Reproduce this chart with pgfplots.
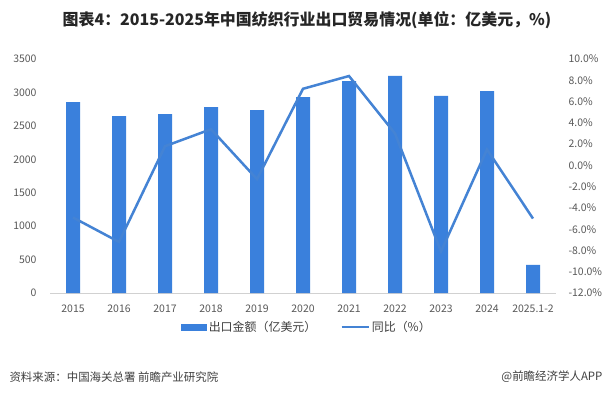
\documentclass[border=0pt]{standalone}
\usepackage{fontspec}
\usepackage{pgfplots}
\pgfplotsset{compat=1.18}
\setmainfont{Noto Sans CJK SC}
\definecolor{barc}{RGB}{58,128,220}
\definecolor{linec}{RGB}{68,131,212}
\definecolor{tickc}{RGB}{89,89,89}
\begin{document}
\begin{tikzpicture}[x=1bp,y=1bp]
\useasboundingbox (0,0) rectangle (611,396);
\fill[white] (0,0) rectangle (611,396);
\node[font=\bfseries\fontsize{16}{18}\selectfont, text=black!85] at (307,376) {图表4：2015-2025年中国纺织行业出口贸易情况(单位：亿美元，\%)};
\node[font=\fontsize{11.5}{13}\selectfont, text=black!75, anchor=west] at (6,19) {资料来源：中国海关总署 前瞻产业研究院};
\node[font=\fontsize{11.5}{13}\selectfont, text=black!75, anchor=east] at (606,19) {@前瞻经济学人APP};
\begin{axis}[at={(50bp,103bp)}, anchor=south west, scale only axis,
  width=506bp, height=234bp,
  xmin=-0.5, xmax=10.5, ymin=0, ymax=3500,
  ytick={0,500,...,3500},
  yticklabels={0,500,1000,1500,2000,2500,3000,3500},
  xtick={0,...,10},
  xticklabels={2015,2016,2017,2018,2019,2020,2021,2022,2023,2024,2025.1-2},
  axis line style={draw=none}, major tick length=0pt,
  ticklabel style={font=\fontsize{10.5}{12}\selectfont, text=tickc},
  yticklabel style={xshift=-10bp},
  xticklabel style={yshift=-8bp},
  clip=false]
\draw[black!18, line width=0.8pt] (rel axis cs:0,0) -- (rel axis cs:1,0);
\addplot[ybar, bar width=14bp, fill=barc, draw=none] coordinates {
(0,2855) (1,2644) (2,2674) (3,2779) (4,2734) (5,2929) (6,3170) (7,3249) (8,2949) (9,3019) (10,420)};
\end{axis}
\begin{axis}[at={(50bp,103bp)}, anchor=south west, scale only axis,
  width=506bp, height=234bp,
  xmin=-0.5, xmax=10.5, ymin=-12, ymax=10,
  axis y line*=right, axis x line=none,
  ytick={-12,-10,...,10},
  yticklabels={-12.0\%,-10.0\%,-8.0\%,-6.0\%,-4.0\%,-2.0\%,0.0\%,2.0\%,4.0\%,6.0\%,8.0\%,10.0\%},
  yticklabel style={anchor=west, xshift=9bp},
  axis line style={draw=none}, major tick length=0pt,
  ticklabel style={font=\fontsize{10.5}{12}\selectfont, text=tickc},
  legend style={at={(0.508,-0.145)}, anchor=center, draw=none, fill=none, legend columns=2,
    font=\fontsize{12}{14}\selectfont, text=black!75,
    /tikz/every even column/.append style={column sep=22bp}},
  clip=false]
\addlegendimage{legend image code/.code={\fill[barc] (0bp,-3bp) rectangle (25bp,3bp);}}
\addlegendentry{出口金额（亿美元）}
\addplot[linec, line width=2.5bp, mark=none, legend image code/.code={\draw[linec, line width=2.5bp] (0bp,0bp) -- (27bp,0bp);}] coordinates {
(0,-4.9) (1,-7.2) (2,1.8) (3,3.4) (4,-1.3) (5,7.2) (6,8.4) (7,3.0) (8,-8.1) (9,1.5) (10,-5.0)};
\addlegendentry{同比（\%）}
\end{axis}
\end{tikzpicture}
\end{document}
